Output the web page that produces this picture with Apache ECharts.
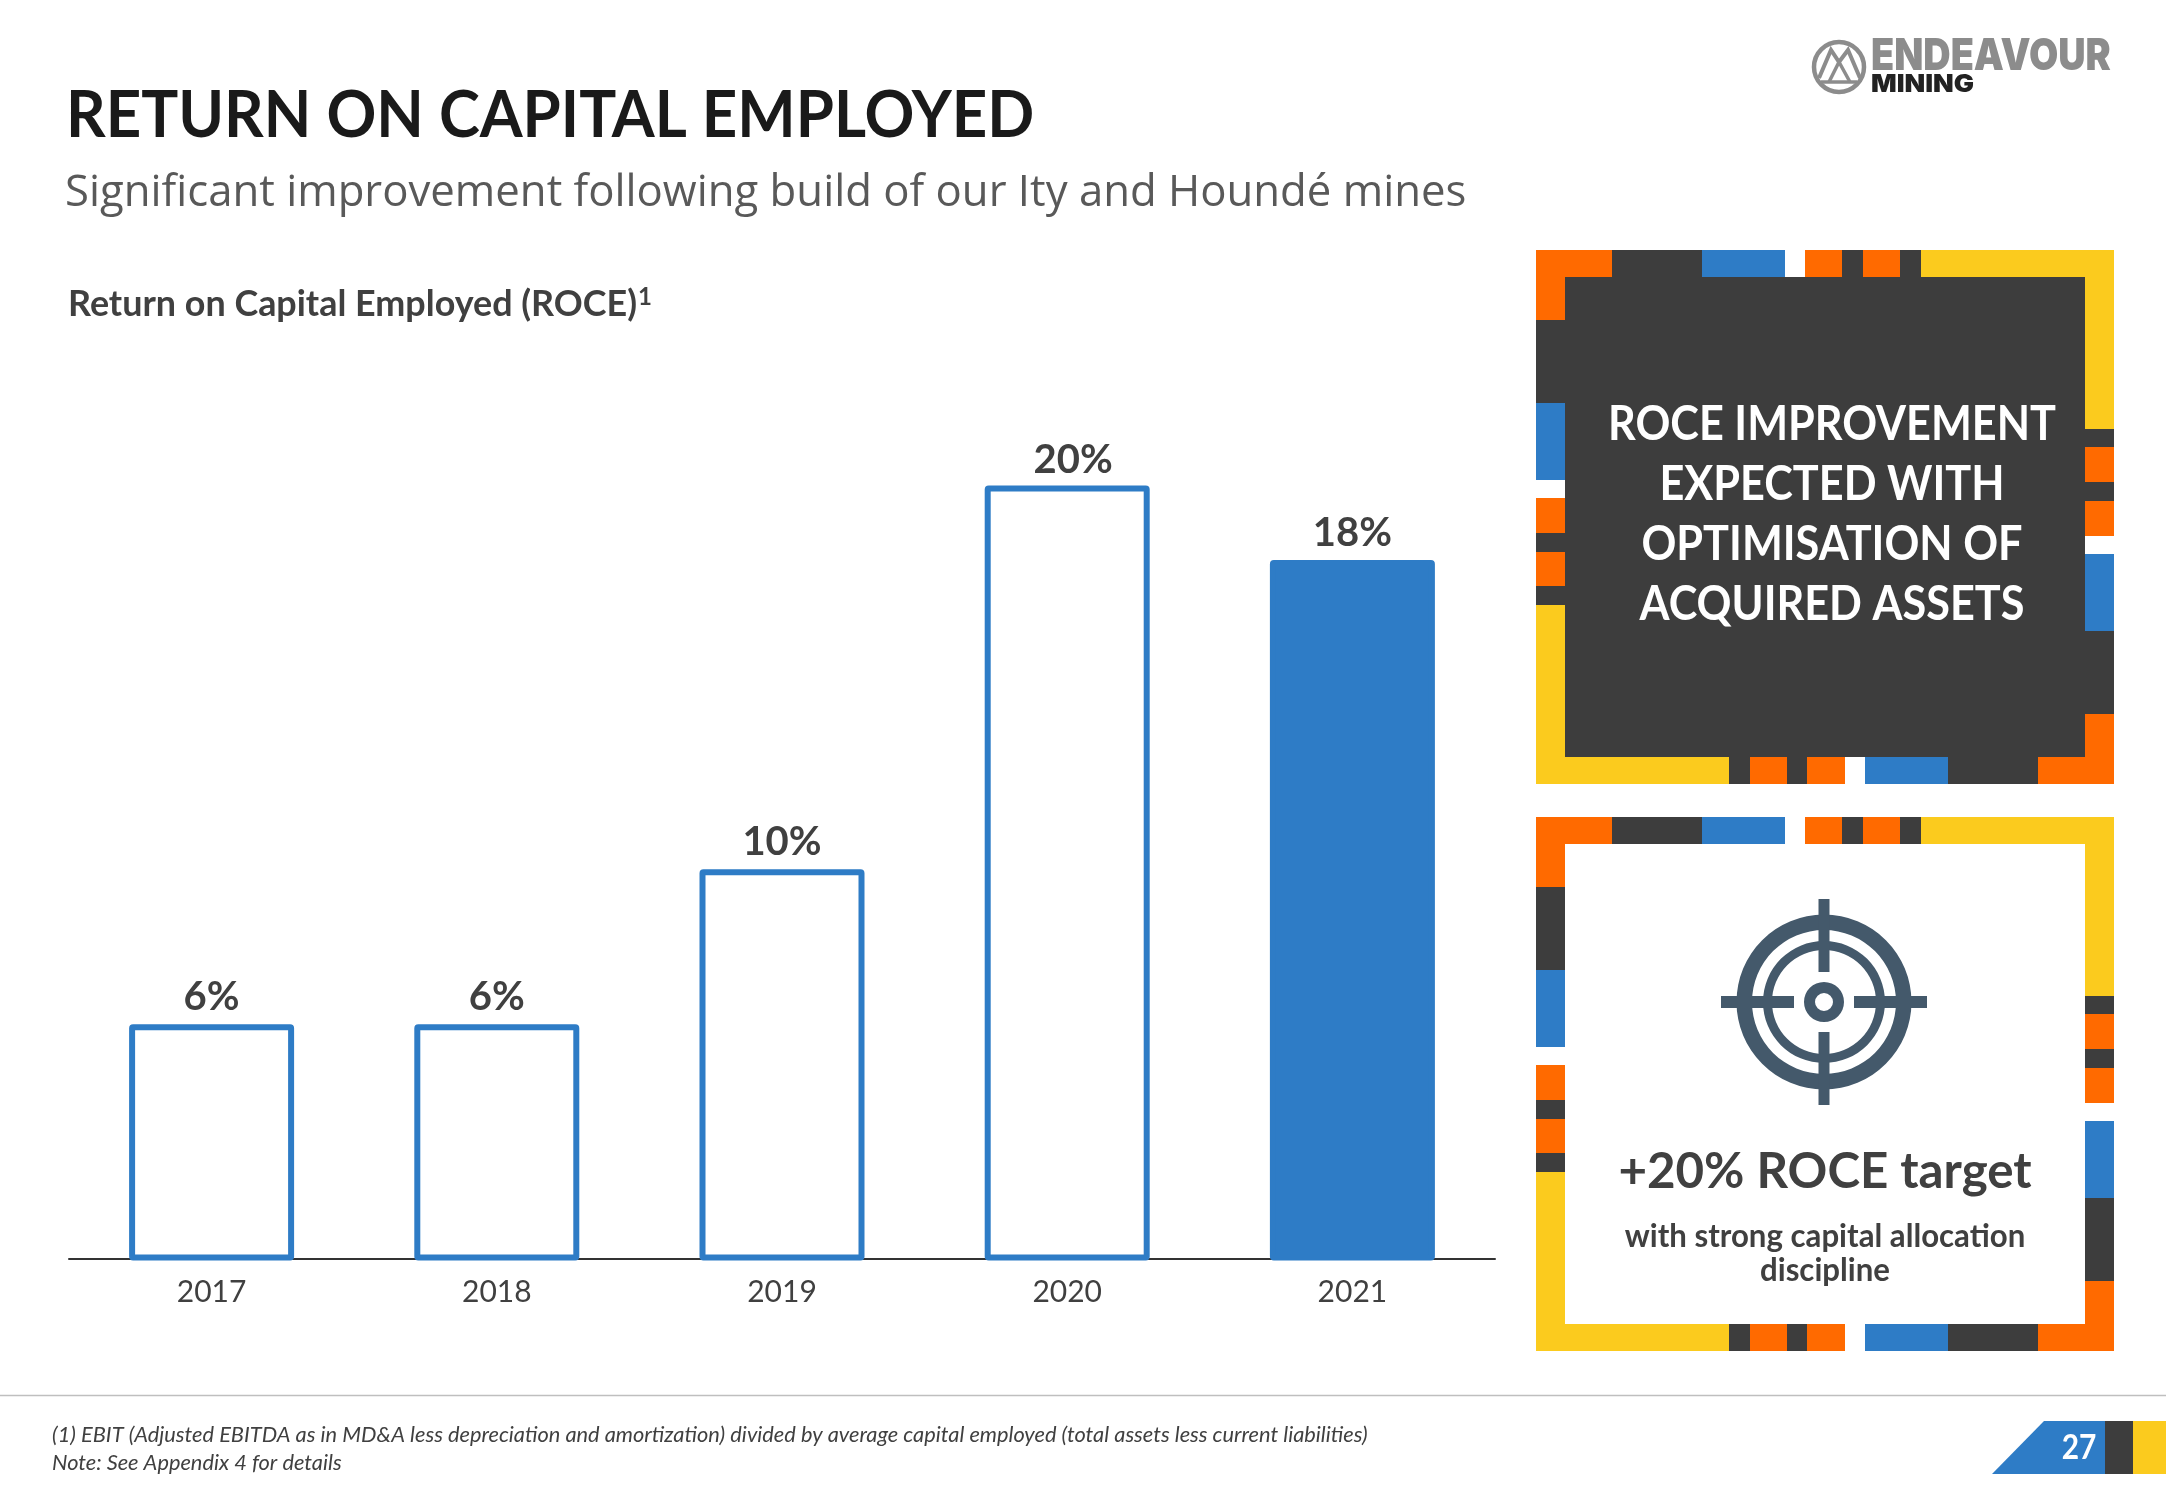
<!DOCTYPE html>
<html>
<head>
<meta charset="utf-8">
<style>html,body{margin:0;padding:0;background:#fff}#c{width:2166px;height:1500px}</style>
<script src="https://cdn.jsdelivr.net/npm/echarts@6/dist/echarts.min.js"></script>
</head>
<body>
<div id="c"></div>
<script>
const categories = ['2017','2018','2019','2020','2021'];
const roceValues = [6.1, 6.1, 10.1, 20, 18.08];
const solidBars = [false, false, false, false, true];

const BLUE='#2E7CC6', DARK='#3D3D3D', ORANGE='#FF6A00', YELLOW='#FBCB1E', WHITE='#FFFFFF', TEXT='#404040', ICON='#44596B';
const FONT='Lato, sans-serif';

// decorative frame stripes, as [from, to, colour] along each side of the top panel
const frameTop=[[1536,1612,ORANGE],[1612,1702,DARK],[1702,1785,BLUE],[1785,1805,WHITE],[1805,1842,ORANGE],[1842,1863,DARK],[1863,1900,ORANGE],[1900,1921,DARK],[1921,2114,YELLOW]];
const frameBottom=[[1536,1729,YELLOW],[1729,1750,DARK],[1750,1787,ORANGE],[1787,1807,DARK],[1807,1845,ORANGE],[1845,1865,WHITE],[1865,1948,BLUE],[1948,2038,DARK],[2038,2114,ORANGE]];
const frameLeft=[[250,320,ORANGE],[320,403,DARK],[403,480,BLUE],[480,498,WHITE],[498,533,ORANGE],[533,552,DARK],[552,586,ORANGE],[586,605,DARK],[605,784,YELLOW]];
const frameRight=[[250,429,YELLOW],[429,447,DARK],[447,482,ORANGE],[482,501,DARK],[501,536,ORANGE],[536,554,WHITE],[554,631,BLUE],[631,714,DARK],[714,784,ORANGE]];

const g=[];
function rect(x,y,w,h,fill){g.push({type:'rect',shape:{x,y,width:w,height:h},style:{fill},silent:true});}
function text(x,y,t,size,weight,fill,align,opt){
  opt=opt||{};
  g.push({type:'text',x,y,scaleX:opt.sx||1,silent:true,style:{text:t,fontFamily:opt.font||FONT,fontSize:size,fontWeight:weight,fontStyle:opt.italic?'italic':'normal',fill,align:align||'left',verticalAlign:'middle'}});
}
function panel(dy,inner){
  rect(1536,250+dy,578,534,DARK);
  rect(1565,277+dy,520,480,inner);
  frameTop.forEach(s=>rect(s[0],250+dy,s[1]-s[0],27,s[2]));
  frameBottom.forEach(s=>rect(s[0],757+dy,s[1]-s[0],27,s[2]));
  frameLeft.forEach(s=>rect(1536,s[0]+dy,29,s[1]-s[0],s[2]));
  frameRight.forEach(s=>rect(2085,s[0]+dy,29,s[1]-s[0],s[2]));
}
panel(0,DARK);
panel(567,WHITE);

// headings
text(66,116,'RETURN ON CAPITAL EMPLOYED',65,700,'#1A1A1A','left',{sx:0.95});
text(65,194,'Significant improvement following build of our Ity and Houndé mines',43.7,400,'#595959','left',{font:'"Open Sans", sans-serif'});
text(68,304,'Return on Capital Employed (ROCE)',37,700,TEXT,'left',{sx:0.97});
text(638,297,'1',24,700,TEXT,'left');

// top panel message
['ROCE IMPROVEMENT','EXPECTED WITH','OPTIMISATION OF','ACQUIRED ASSETS'].forEach((t,i)=>{
  text(1832,[425,485,545,605][i],t,47,700,WHITE,'center',{sx:0.92});
});

// target icon
const cx=1824, cy=1002;
[[87.5,72],[61,52],[20,9]].forEach(r=>g.push({type:'ring',shape:{cx,cy,r:r[0],r0:r[1]},style:{fill:ICON},silent:true}));
rect(cx-103,cy-6,73,12,ICON); rect(cx+30,cy-6,73,12,ICON);
rect(cx-5.5,cy-103,11,73,ICON); rect(cx-5.5,cy+30,11,73,ICON);

// bottom panel message
text(1825,1172,'+20% ROCE target',50,700,TEXT,'center',{sx:0.985});
text(1825,1237,'with strong capital allocation',32,700,TEXT,'center',{sx:0.975});
text(1825,1271,'discipline',32,700,TEXT,'center',{sx:0.975});

// logo
g.push({type:'circle',shape:{cx:1839,cy:67,r:25},style:{fill:'none',stroke:'#8C8C8C',lineWidth:4.5},silent:true});
g.push({type:'polyline',shape:{points:[[1819,78],[1831,50],[1839,62],[1848,50],[1860,78]]},style:{fill:'none',stroke:'#8C8C8C',lineWidth:4},silent:true});
g.push({type:'polyline',shape:{points:[[1829,82],[1839,62],[1850,82]]},style:{fill:'none',stroke:'#8C8C8C',lineWidth:3.5},silent:true});
g.push({type:'line',shape:{x1:1821,y1:82,x2:1857,y2:82},style:{stroke:'#8C8C8C',lineWidth:3.5},silent:true});
text(1871,57,'ENDEAVOUR',44,900,'#8C8C8C','left',{font:'Inter, sans-serif',sx:0.86});
text(1871,85,'MINING',24,900,'#222222','left',{font:'Inter, sans-serif',sx:1.12});

// footer
g.push({type:'line',shape:{x1:0,y1:1395.5,x2:2166,y2:1395.5},style:{stroke:'#BFBFBF',lineWidth:1.5},silent:true});
text(52,1435,'(1) EBIT (Adjusted EBITDA as in MD&A less depreciation and amortization) divided by average capital employed (total assets less current liabilities)',21.8,400,TEXT,'left',{italic:true});
text(52,1463,'Note: See Appendix 4 for details',21.8,400,TEXT,'left',{italic:true});

// page tab
g.push({type:'polygon',shape:{points:[[2044,1421],[2105,1421],[2105,1474],[1992,1474]]},style:{fill:BLUE},silent:true});
rect(2105,1421,28,53,DARK); rect(2133,1421,33,53,YELLOW);
text(2079,1448,'27',34,700,WHITE,'center',{sx:0.88});

const chart=echarts.init(document.getElementById('c'),null,{renderer:'canvas',width:2166,height:1500});
chart.setOption({
  animation:false,
  backgroundColor:'#fff',
  grid:{left:69,width:1426,top:330.5,height:930,containLabel:false},
  xAxis:{type:'category',data:categories,offset:-1.5,axisTick:{show:false},
    axisLine:{lineStyle:{color:'#333',width:2}},
    axisLabel:{color:TEXT,fontFamily:FONT,fontSize:30,margin:18}},
  yAxis:{type:'value',min:0,max:24,show:false,splitLine:{show:false}},
  series:[{type:'bar',z:3,barWidth:165,
    data:roceValues.map((v,i)=>({value:v,
      itemStyle:{color:solidBars[i]?BLUE:WHITE,borderColor:BLUE,borderWidth:6,borderRadius:1},
      label:{offset:categories[i]==='2020'?[6,2]:[0,0]}})),
    label:{show:true,position:'top',distance:7,color:TEXT,fontFamily:FONT,fontWeight:700,fontSize:40,
      formatter:p=>Math.round(p.value)+'%'}}],
  graphic:{elements:g}
});
</script>
</body>
</html>
